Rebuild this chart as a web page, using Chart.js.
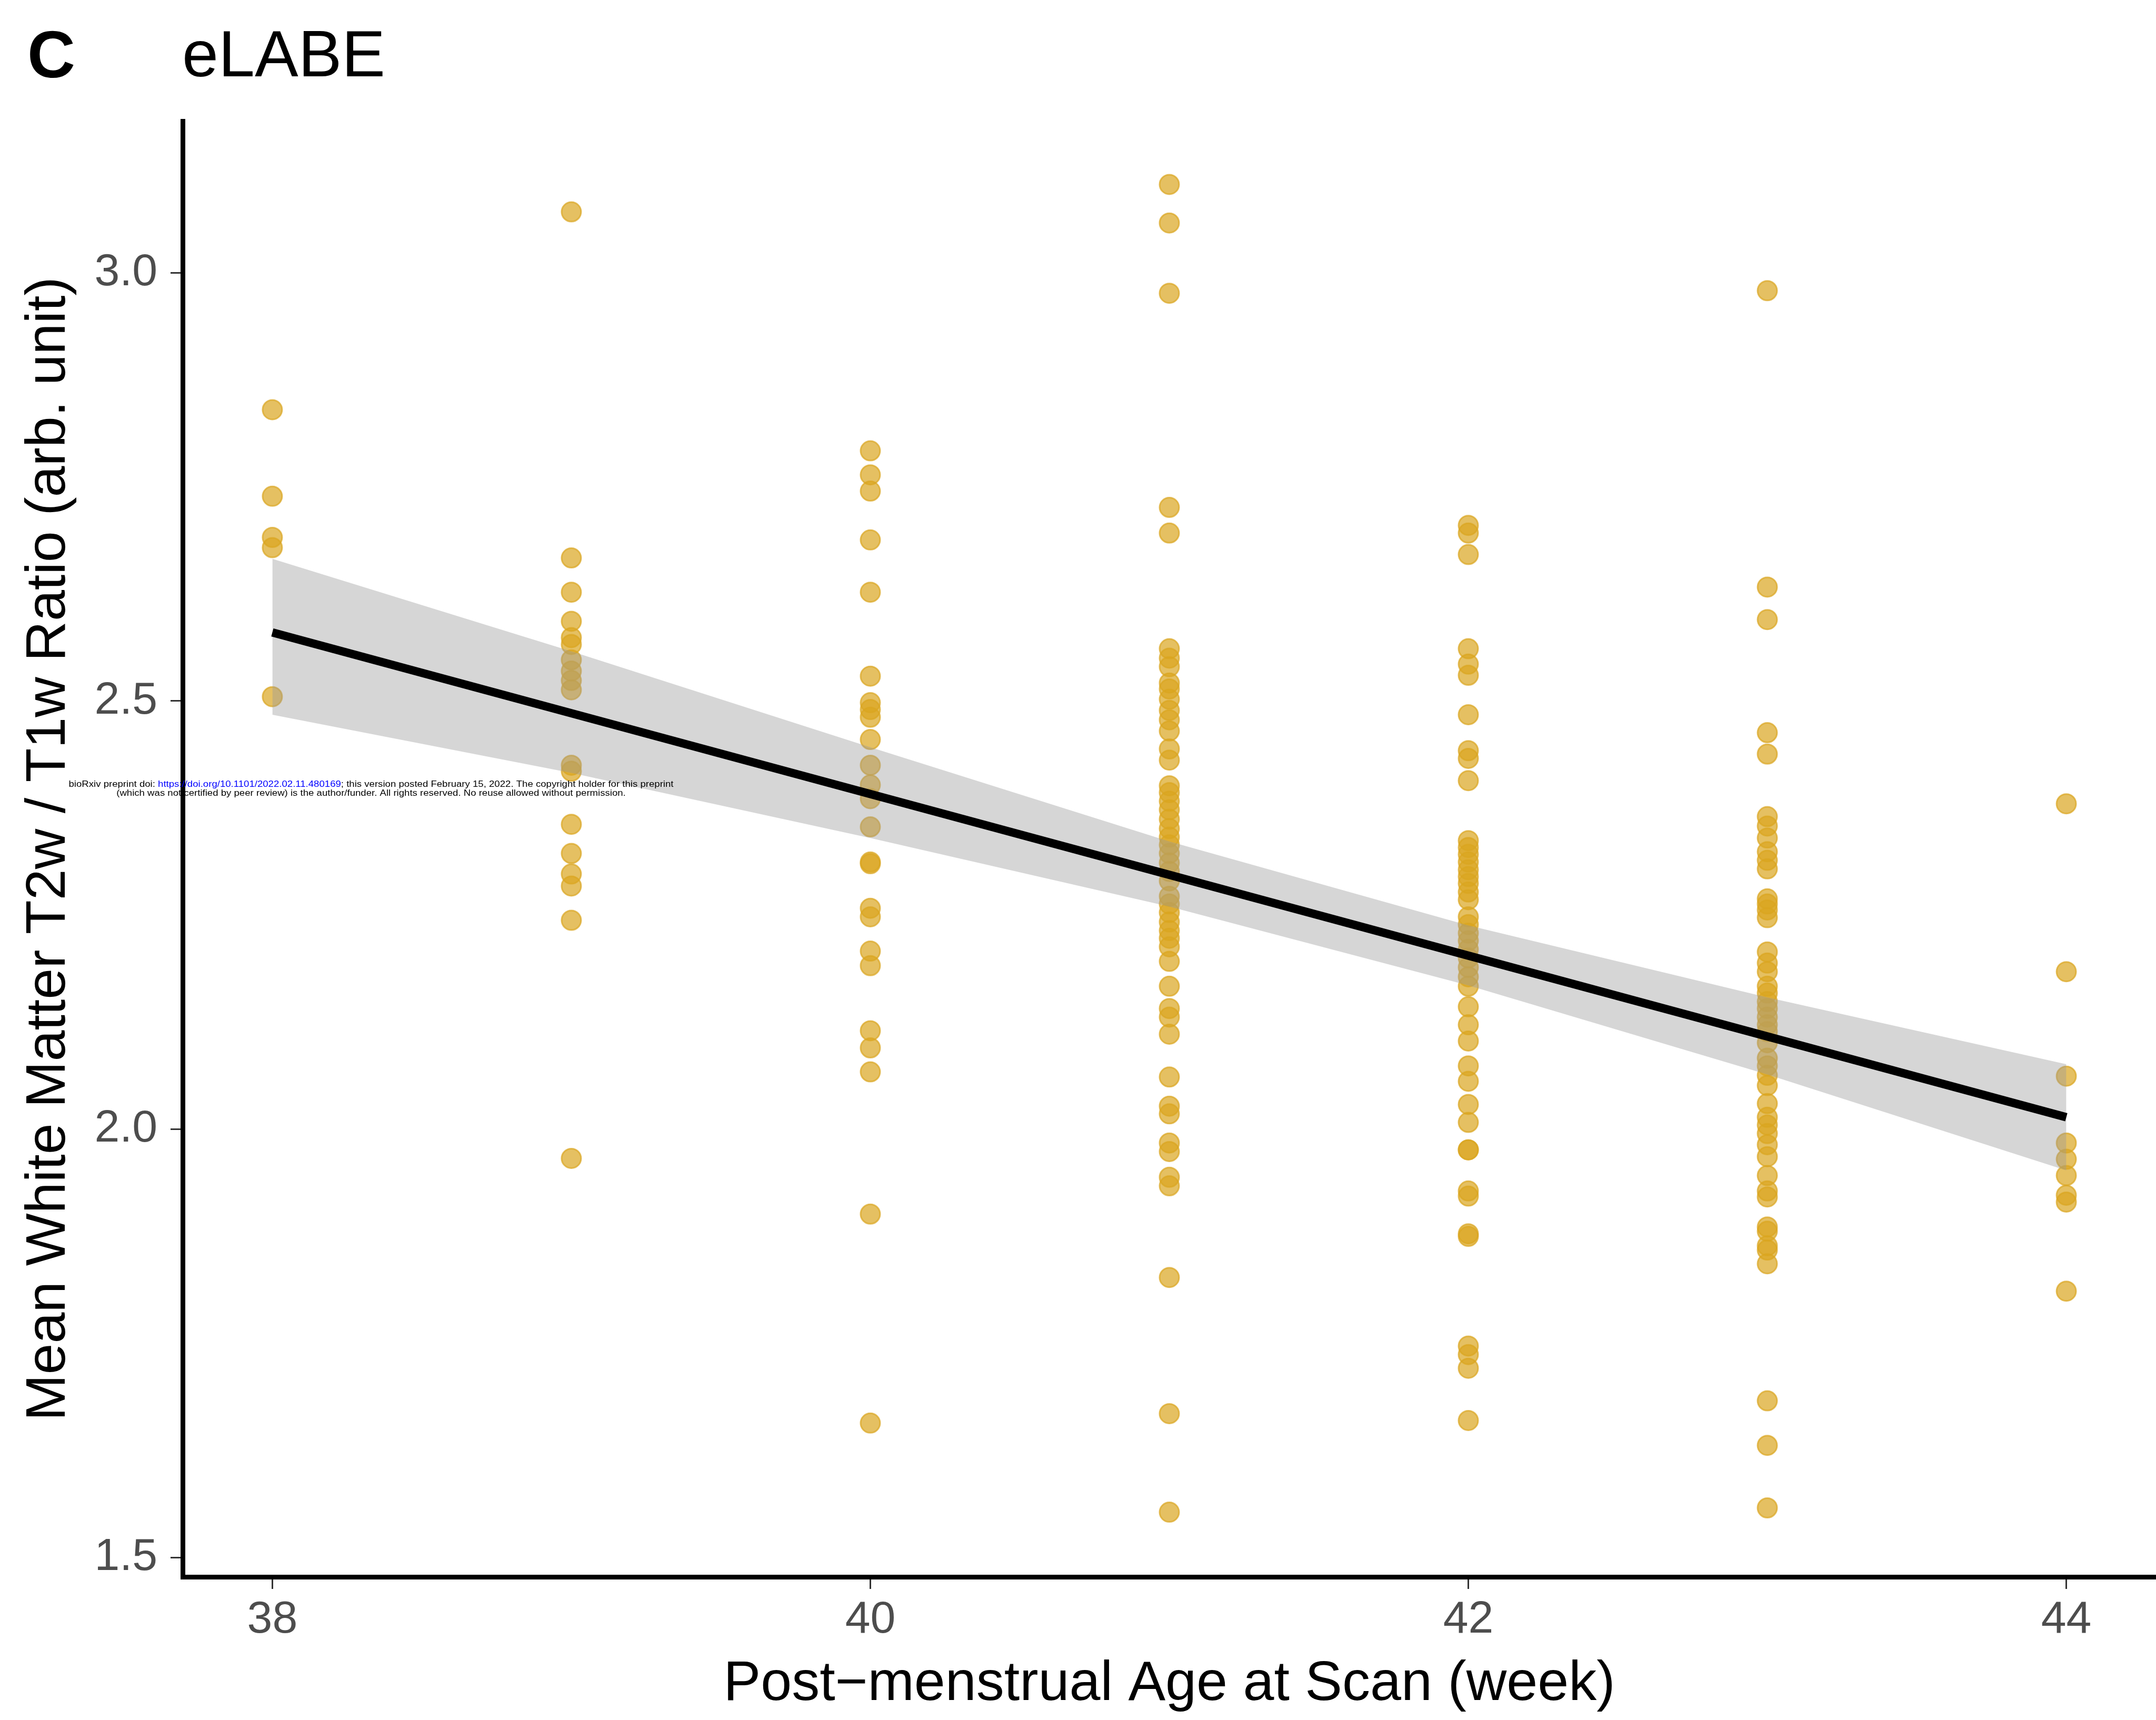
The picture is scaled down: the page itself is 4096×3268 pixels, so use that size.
<!DOCTYPE html>
<html>
<head>
<meta charset="utf-8">
<script src="https://cdn.jsdelivr.net/npm/chart.js@4/dist/chart.umd.min.js"></script>
<style>
  html, body { margin: 0; padding: 0; background: #fff; }
  canvas { display: block; }
</style>
</head>
<body>
<canvas id="myChart" width="4096" height="3268"></canvas>
<script>
// values, one array per scan week
const weeks = [38, 39, 40, 41, 42, 43, 44];
const wk38 = [2.840, 2.739, 2.691, 2.679, 2.505];
const wk39 = [3.071, 2.667, 2.627, 2.593, 2.574, 2.566, 2.548, 2.535, 2.524, 2.513, 2.425, 2.418,
              2.356, 2.322, 2.298, 2.284, 2.244, 1.966];
const wk40 = [2.792, 2.764, 2.745, 2.688, 2.627, 2.529, 2.498, 2.490, 2.481, 2.455, 2.425, 2.402,
              2.386, 2.353, 2.312, 2.310, 2.258, 2.248, 2.208, 2.191, 2.115, 2.095, 2.067, 1.901, 1.657];
const wk41 = [3.103, 3.058, 2.976, 2.726, 2.696, 2.561, 2.550, 2.540, 2.521, 2.514, 2.502, 2.489,
              2.478, 2.465, 2.444, 2.431, 2.401, 2.393, 2.383, 2.373, 2.362, 2.351, 2.341, 2.332,
              2.322, 2.311, 2.301, 2.290, 2.272, 2.263, 2.253, 2.242, 2.232, 2.223, 2.213, 2.196,
              2.167, 2.141, 2.131, 2.111, 2.061, 2.027, 2.018, 1.984, 1.974, 1.944, 1.934, 1.827,
              1.668, 1.553];
const wk42 = [2.705, 2.696, 2.671, 2.561, 2.543, 2.530, 2.484, 2.442, 2.433, 2.407, 2.337, 2.329,
              2.321, 2.312, 2.303, 2.295, 2.287, 2.277, 2.268, 2.248, 2.239, 2.229, 2.220, 2.210,
              2.200, 2.189, 2.178, 2.167, 2.143, 2.122, 2.103, 2.074, 2.056, 2.029, 2.008, 1.976,
              1.976, 1.928, 1.922, 1.878, 1.875, 1.747, 1.737, 1.721, 1.660];
const wk43 = [2.979, 2.633, 2.595, 2.463, 2.438, 2.365, 2.354, 2.340, 2.324, 2.314, 2.304, 2.269,
              2.263, 2.256, 2.247, 2.207, 2.194, 2.184, 2.167, 2.159, 2.149, 2.141, 2.131, 2.122,
              2.114, 2.101, 2.083, 2.074, 2.063, 2.051, 2.030, 2.014, 2.005, 1.995, 1.982, 1.968,
              1.946, 1.928, 1.921, 1.886, 1.881, 1.864, 1.859, 1.843, 1.683, 1.631, 1.558];
const wk44 = [2.380, 2.184, 2.062, 1.984, 1.965, 1.946, 1.923, 1.915, 1.811];
const ratios = [wk38, wk39, wk40, wk41, wk42, wk43, wk44];

// fitted line and its grey confidence band, read at each week
const fitX = [38, 44];
const fitY = [2.580, 2.014];
const bandX = [38, 39, 40, 41, 42, 43, 44];
const bandUpper = [2.666, 2.558, 2.446, 2.336, 2.238, 2.154, 2.076];
const bandLower = [2.484, 2.416, 2.340, 2.260, 2.168, 2.064, 1.952];

const xTicks = [38, 40, 42, 44];
const yTicks = [1.5, 2.0, 2.5, 3.0];

const FONT = "'Liberation Sans', Arial, Helvetica, sans-serif";

const points = [];
weeks.forEach((w, i) => ratios[i].forEach(v => points.push({x: w, y: v})));

const decor = {
    id: 'decor',
    afterDraw(chart) {
        const c = chart.ctx;
        c.save();
        c.fillStyle = '#000';
        c.textBaseline = 'alphabetic';
        c.textAlign = 'left';
        c.font = 'bold 126px ' + FONT;
        c.fillText('C', 52, 147);
        c.font = '124px ' + FONT;
        c.fillText('eLABE', 346, 145);

        // preprint notice
        c.font = '16px ' + FONT;
        const segs = [
            ['bioRxiv preprint doi: ', '#000'],
            ['https://doi.org/10.1101/2022.02.11.480169', '#0000ff'],
            ['; this version posted February 15, 2022. The copyright holder for this preprint', '#000']
        ];
        let w1 = 0;
        segs.forEach(s => w1 += c.measureText(s[0]).width);
        const sx = 1149 / w1;
        c.save();
        c.translate(705 - 1149 / 2, 1495);
        c.scale(sx, 1);
        let x = 0;
        segs.forEach(s => { c.fillStyle = s[1]; c.fillText(s[0], x, 0); x += c.measureText(s[0]).width; });
        c.restore();
        c.save();
        c.translate(705, 1512);
        c.scale(sx, 1);
        c.textAlign = 'center';
        c.fillStyle = '#000';
        c.fillText('(which was not certified by peer review) is the author/funder. All rights reserved. No reuse allowed without permission.', 0, 0);
        c.restore();
        c.restore();
    }
};

const ctx = document.getElementById('myChart');
const PLOT = new Chart(ctx, {
    type: 'scatter',
    data: {
        datasets: [{
            label: 'subjects',
            data: points,
            pointRadius: 18.5,
            pointHoverRadius: 18.5,
            borderWidth: 3,
            backgroundColor: 'rgba(218,165,32,0.7)',
            borderColor: 'rgba(218,165,32,0.7)',
            order: 3
        },{
            label: 'fit',
            type: 'line',
            data: fitX.map((x, i) => ({x: x, y: fitY[i]})),
            borderColor: '#000',
            borderWidth: 16,
            pointRadius: 0,
            fill: false,
            order: 0
        },{
            label: 'upper',
            type: 'line',
            data: bandX.map((x, i) => ({x: x, y: bandUpper[i]})),
            borderWidth: 0,
            borderColor: 'rgba(0,0,0,0)',
            backgroundColor: 'rgba(153,153,153,0.4)',
            pointRadius: 0,
            fill: '+1',
            order: 1
        },{
            label: 'lower',
            type: 'line',
            data: bandX.map((x, i) => ({x: x, y: bandLower[i]})),
            borderWidth: 0,
            borderColor: 'rgba(0,0,0,0)',
            pointRadius: 0,
            fill: false,
            order: 2
        }]
    },
    options: {
        responsive: false,
        animation: false,
        devicePixelRatio: 1,
        layout: { autoPadding: false, padding: { top: 230, left: 0, right: 0, bottom: 0 } },
        plugins: {
            legend: { display: false },
            tooltip: { enabled: false }
        },
        scales: {
            x: {
                type: 'linear',
                min: 37.7,
                max: 44.3,
                afterBuildTicks: s => { s.ticks = xTicks.map(v => ({value: v})); },
                afterFit: s => { s.height = 272; },
                border: { display: true, color: '#000', width: 9 },
                grid: { drawOnChartArea: false, drawTicks: true, tickLength: 23, tickColor: '#333', tickWidth: 3 },
                ticks: { color: '#4d4d4d', font: { family: FONT, size: 86 }, padding: 8, maxRotation: 0 },
                title: {
                    display: true,
                    text: 'Post\u2212menstrual Age at Scan (week)',
                    color: '#000',
                    font: { family: FONT, size: 106 },
                    padding: { top: 0, bottom: 4 }
                }
            },
            y: {
                type: 'linear',
                min: 1.4775,
                max: 3.177,
                afterBuildTicks: s => { s.ticks = yTicks.map(v => ({value: v})); },
                afterFit: s => { s.width = 347; },
                border: { display: true, color: '#000', width: 9 },
                grid: { drawOnChartArea: false, drawTicks: true, tickLength: 23, tickColor: '#333', tickWidth: 3 },
                ticks: { color: '#4d4d4d', font: { family: FONT, size: 86 }, padding: 25,
                         callback: v => v.toFixed(1) },
                title: {
                    display: true,
                    text: 'Mean White Matter T2w / T1w Ratio (arb. unit)',
                    color: '#000',
                    font: { family: FONT, size: 106 },
                    padding: { top: 30, bottom: 0 }
                }
            }
        }
    },
    plugins: [decor]
});
</script>
</body>
</html>
